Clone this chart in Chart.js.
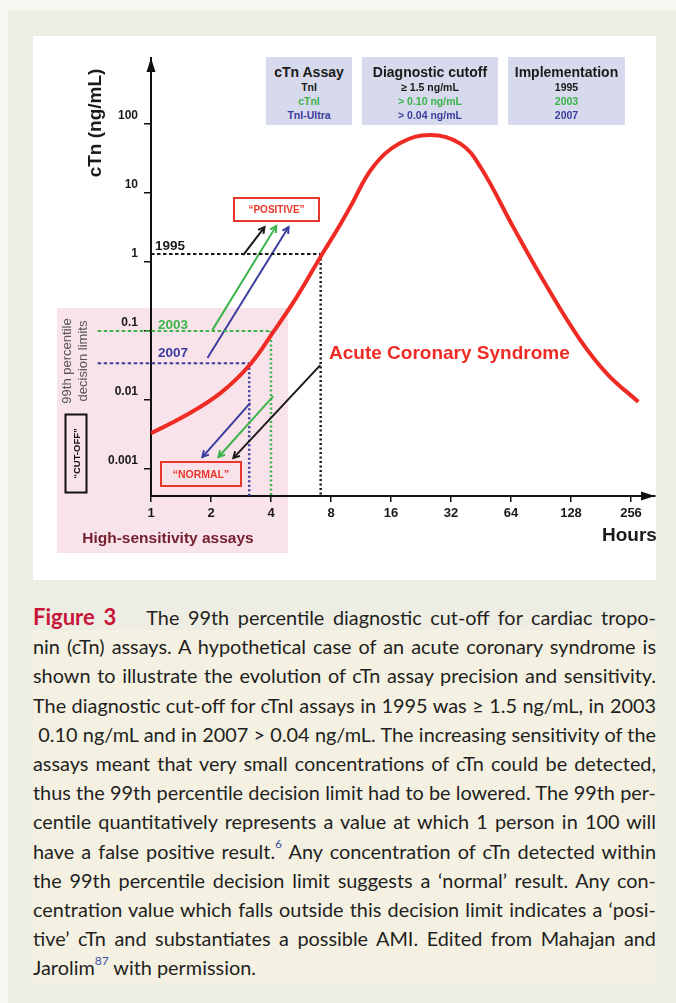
<!DOCTYPE html>
<html>
<head>
<meta charset="utf-8">
<script src="https://cdn.jsdelivr.net/npm/chart.js@4.4.1/dist/chart.umd.min.js"></script>
<style>
  body { margin: 0; width: 676px; height: 1003px; background: #f7f7f2; position: relative; overflow: hidden;
         font-family: "Liberation Sans", Arial, sans-serif; }
  .abs { position: absolute; }
  #frame { left: 8px; top: 11px; width: 668px; height: 992px; background: #eeede3; }
  #panel { left: 33px; top: 36px; width: 623px; height: 544px; background: #fff; }
  #pink { left: 57px; top: 308px; width: 231px; height: 245px; background: #f9e3ea; }
  #capbox { left: 33px; top: 630px; width: 623px; height: 353px; background: #f4f1e3; }
  #chart { left: 0; top: 0; }
  .hdr { top: 57px; height: 68px; background: #d7d9ec; text-align: center; font-weight: bold; box-sizing: border-box; padding-top: 7px; }
  .hdr .h { font-size: 14px; line-height: 16px; color: #1a1a1a; }
  .hdr .r { font-size: 10.5px; line-height: 14px; }
  .lbl { position: absolute; font-weight: bold; white-space: nowrap; transform: translateY(-50%); }
  .box { position: absolute; box-sizing: border-box; border: 2px solid #e8372b; color: #e8372b; font-weight: bold;
         text-align: center; font-size: 10px; }
  #caption { left: 33px; top: 602px; width: 623px; font-family: Lato, "Open Sans", sans-serif; font-size: 20px;
             line-height: 29.2px; color: #231f20; }
  #caption .ln { white-space: nowrap; }
  #caption.fit .ln { white-space: normal; text-align: justify; text-align-last: justify; }
  #caption.fit .ln.last { text-align-last: left; }
  #caption .fig { color: #c8163a; font-weight: bold; font-size: 22px; margin-right: 22px; }
  #caption sup { color: #3b4fa3; font-size: 12px; line-height: 0; position: relative; top: -3px; }
</style>
</head>
<body>
<div id="frame" class="abs"></div>
<div id="panel" class="abs"></div>
<div id="pink" class="abs"></div>
<div id="capbox" class="abs"></div>
<canvas id="chart" class="abs" width="676" height="580"></canvas>

<div class="abs hdr" style="left:266px;width:86px">
  <div class="h">cTn Assay</div>
  <div class="r" style="color:#1a1a1a">TnI</div>
  <div class="r" style="color:#3cb44b">cTnI</div>
  <div class="r" style="color:#3b3d9e">TnI-Ultra</div>
</div>
<div class="abs hdr" style="left:362px;width:136px">
  <div class="h">Diagnostic cutoff</div>
  <div class="r" style="color:#1a1a1a">≥ 1.5 ng/mL</div>
  <div class="r" style="color:#3cb44b">&gt; 0.10 ng/mL</div>
  <div class="r" style="color:#3b3d9e">&gt; 0.04 ng/mL</div>
</div>
<div class="abs hdr" style="left:508px;width:117px">
  <div class="h">Implementation</div>
  <div class="r" style="color:#1a1a1a">1995</div>
  <div class="r" style="color:#3cb44b">2003</div>
  <div class="r" style="color:#3b3d9e">2007</div>
</div>

<div class="abs" style="left:30px;top:113px;width:130px;height:20px;line-height:20px;text-align:center;font-weight:bold;font-size:19px;color:#1a1a1a;transform:rotate(-90deg)">cTn (ng/mL)</div>
<div class="abs" style="left:30px;top:345px;width:90px;height:32px;line-height:16px;text-align:center;font-size:13px;color:#555;transform:rotate(-90deg);white-space:nowrap">99th percentile<br>decision limits</div>
<div class="box" style="left:35.5px;top:441.5px;width:80px;height:23px;line-height:19px;border-color:#111;color:#111;font-size:9.5px;transform:rotate(-90deg)">“CUT-OFF”</div>

<div class="lbl" style="left:155px;top:245px;font-size:13.5px;color:#1a1a1a">1995</div>
<div class="lbl" style="left:158px;top:324px;font-size:13.5px;color:#3cb44b">2003</div>
<div class="lbl" style="left:158px;top:352px;font-size:13.5px;color:#3b3d9e">2007</div>
<div class="box" style="left:233px;top:197px;width:87px;height:25px;line-height:21px">“POSITIVE”</div>
<div class="box" style="left:160px;top:461px;width:82px;height:26px;line-height:22px;font-size:10.5px">“NORMAL”</div>
<div class="lbl" style="left:329px;top:353px;font-size:19px;color:#ef2b24">Acute Coronary Syndrome</div>
<div class="lbl" style="left:602px;top:535px;font-size:19px;color:#1a1a1a">Hours</div>
<div class="lbl" style="left:168px;top:538px;font-size:15.5px;color:#74202d;transform:translate(-50%,-50%)">High-sensitivity assays</div>

<div id="caption" class="abs">
  <div class="ln"><span><span class="fig">Figure 3</span> The 99th percentile diagnostic cut-off for cardiac tropo-</span></div>
  <div class="ln"><span>nin (cTn) assays. A hypothetical case of an acute coronary syndrome is</span></div>
  <div class="ln"><span>shown to illustrate the evolution of cTn assay precision and sensitivity.</span></div>
  <div class="ln"><span>The diagnostic cut-off for cTnI assays in 1995 was ≥ 1.5 ng/mL, in 2003</span></div>
  <div class="ln"><span>&nbsp;0.10 ng/mL and in 2007 &gt; 0.04 ng/mL. The increasing sensitivity of the</span></div>
  <div class="ln"><span>assays meant that very small concentrations of cTn could be detected,</span></div>
  <div class="ln"><span>thus the 99th percentile decision limit had to be lowered. The 99th per-</span></div>
  <div class="ln"><span>centile quantitatively represents a value at which 1 person in 100 will</span></div>
  <div class="ln"><span>have a false positive result.<sup>6</sup> Any concentration of cTn detected within</span></div>
  <div class="ln"><span>the 99th percentile decision limit suggests a ‘normal’ result. Any con-</span></div>
  <div class="ln"><span>centration value which falls outside this decision limit indicates a ‘posi-</span></div>
  <div class="ln"><span>tive’ cTn and substantiates a possible AMI. Edited from Mahajan and</span></div>
  <div class="ln last"><span>Jarolim<sup>87</sup> with permission.</span></div>
</div>

<script>
// Acute coronary syndrome curve
let hours = [1, 1.45, 2.23, 3.15, 4.11, 5.42, 7.23, 8.6, 10, 13, 17.8, 25.2, 35.6, 44.9, 65.7, 97.4, 142.5, 194.7, 278.6];
let ctnLevel = [0.0033, 0.0057, 0.0126, 0.033, 0.097, 0.32, 1.31, 2.95, 6.3, 23.8, 53, 69, 52, 24, 3.2, 0.43, 0.074, 0.0238, 0.0094];

let xTicks = [1, 2, 4, 8, 16, 32, 64, 128, 256];
let xTickLabels = ['1', '2', '4', '8', '16', '32', '64', '128', '256'];
let yTicks = [0.001, 0.01, 0.1, 1, 10, 100];
let yTickLabels = ['0.001', '0.01', '0.1', '1', '10', '100'];

// 99th percentile cut-off of each assay generation and where it meets the curve
let cutoffYears = ['1995', '2003', '2007'];
let cutoffLevel = [1.31, 0.1, 0.034];
let cutoffHour = [7.1, 4, 3.11];
let cutoffFrom = [1, 0.54, 0.54];

// arrows as [start, end], each [hours, ng/mL]; same order as cutoffYears
let positiveArrows = [
  [[2.9, 1.26], [3.71, 3.21]],
  [[2.03, 0.103], [4.25, 3.33]],
  [[1.92, 0.0407], [4.9, 3.21]]
];
let normalArrows = [
  [[7.07, 0.032], [2.59, 0.00144]],
  [[4.11, 0.0114], [2.18, 0.00149]],
  [[3.15, 0.0091], [1.81, 0.00149]]
];

let xMin = 1, xMax = 337.8;
let yMin = 0.000406, yMax = 905;

let red = '#ef2b24';
let assayColors = ['#1a1a1a', '#3cb44b', '#3b3d9e'];

function pts(list) {
  return list.map(function(p) { return {x: p[0], y: p[1]}; });
}

let datasets = [];
datasets.push({
  data: hours.map(function(h, i) { return {x: h, y: ctnLevel[i]}; }),
  borderColor: red, borderWidth: 4, tension: 0.4, pointRadius: 0
});
for (let i = 0; i < cutoffYears.length; i++) {
  datasets.push({
    data: [{x: cutoffFrom[i], y: cutoffLevel[i]}, {x: cutoffHour[i], y: cutoffLevel[i]}],
    borderColor: assayColors[i], borderWidth: 2, borderDash: [3.5, 2.5], pointRadius: 0, clip: false
  });
  datasets.push({
    data: [{x: cutoffHour[i], y: cutoffLevel[i]}, {x: cutoffHour[i], y: yMin}],
    borderColor: assayColors[i], borderWidth: 2.5, borderDash: [2, 2.5], pointRadius: 0, clip: false
  });
  datasets.push({ data: pts(positiveArrows[i]), borderColor: assayColors[i], borderWidth: 2, pointRadius: 0, arrow: true });
  datasets.push({ data: pts(normalArrows[i]), borderColor: assayColors[i], borderWidth: 2, pointRadius: 0, arrow: true });
}

// arrow heads on the arrow lines and on both axes
let arrowHeads = {
  id: 'arrowHeads',
  afterDatasetsDraw: function(chart) {
    let c = chart.ctx;
    chart.data.datasets.forEach(function(ds, i) {
      if (!ds.arrow) return;
      let pts = chart.getDatasetMeta(i).data;
      let a = pts[pts.length - 2], b = pts[pts.length - 1];
      let ang = Math.atan2(b.y - a.y, b.x - a.x);
      c.save();
      c.strokeStyle = ds.borderColor;
      c.lineWidth = 2;
      c.beginPath();
      c.moveTo(b.x - 7 * Math.cos(ang - 0.5), b.y - 7 * Math.sin(ang - 0.5));
      c.lineTo(b.x, b.y);
      c.lineTo(b.x - 7 * Math.cos(ang + 0.5), b.y - 7 * Math.sin(ang + 0.5));
      c.stroke();
      c.restore();
    });
  },
  afterDraw: function(chart) {
    let c = chart.ctx, area = chart.chartArea;
    c.save();
    c.fillStyle = '#111';
    c.beginPath();
    c.moveTo(area.left, area.top);
    c.lineTo(area.left - 4.5, area.top + 14);
    c.lineTo(area.left + 4.5, area.top + 14);
    c.fill();
    c.beginPath();
    c.moveTo(area.right, area.bottom);
    c.lineTo(area.right - 14, area.bottom - 4.5);
    c.lineTo(area.right - 14, area.bottom + 4.5);
    c.fill();
    c.restore();
  }
};

let tickFont = {family: '"Liberation Sans", Arial, sans-serif', weight: 'bold'};

new Chart(document.getElementById('chart'), {
  type: 'line',
  data: {datasets: datasets},
  options: {
    responsive: false,
    animation: false,
    layout: {padding: {left: 91, top: 58, right: 21, bottom: 54}},
    plugins: {legend: {display: false}, tooltip: {enabled: false}},
    scales: {
      x: {
        type: 'logarithmic', min: xMin, max: xMax, bounds: 'data',
        afterFit: function(s) { s.height = 30; },
        afterBuildTicks: function(s) { s.ticks = xTicks.map(function(v) { return {value: v}; }); },
        grid: {drawOnChartArea: false, tickLength: 6, color: '#111', lineWidth: 1.5},
        border: {color: '#111', width: 2},
        ticks: {
          autoSkip: false, maxRotation: 0, padding: 4, color: '#1a1a1a',
          font: Object.assign({size: 13}, tickFont),
          callback: function(v) { return xTickLabels[xTicks.indexOf(v)]; }
        }
      },
      y: {
        type: 'logarithmic', min: yMin, max: yMax, bounds: 'data',
        afterFit: function(s) { s.width = 60; },
        afterBuildTicks: function(s) { s.ticks = yTicks.map(function(v) { return {value: v}; }); },
        grid: {drawOnChartArea: false, tickLength: 7, color: '#111', lineWidth: 1.5},
        border: {color: '#111', width: 2},
        ticks: {
          autoSkip: false, padding: 6, labelOffset: -8, color: '#1a1a1a',
          font: Object.assign({size: 12}, tickFont),
          callback: function(v) { return yTickLabels[yTicks.indexOf(v)]; }
        }
      }
    }
  },
  plugins: [arrowHeads]
});

// shrink the caption font until the widest line fits, then justify
let caption = document.getElementById('caption');
let widest = 0;
caption.querySelectorAll('.ln > span').forEach(function(s) { widest = Math.max(widest, s.offsetWidth); });
if (widest > 621) {
  caption.style.fontSize = (20 * 621 / widest).toFixed(2) + 'px';
}
caption.classList.add('fit');
</script>
</body>
</html>
